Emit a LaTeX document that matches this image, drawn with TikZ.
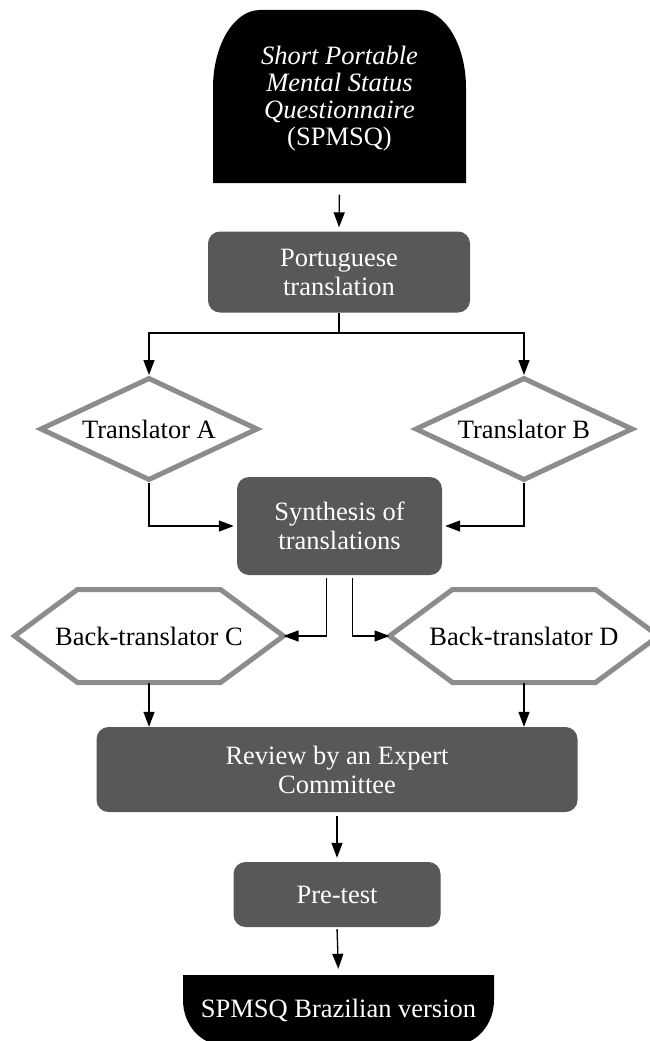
\documentclass[tikz,border=0pt]{standalone}
\usepackage{fontspec}
\setmainfont{Liberation Serif}
\usetikzlibrary{arrows.meta,shapes.geometric,calc}
\definecolor{boxgray}{RGB}{88,88,88}
\definecolor{linegray}{RGB}{140,140,140}
\begin{document}
\begin{tikzpicture}[x=1pt,y=-1pt,
  every node/.style={font=\fontsize{26.5pt}{29pt}\selectfont},
  darkbox/.style={rectangle, rounded corners=12pt, fill=boxgray, text=white, align=center, inner sep=0pt},
  choice/.style={diamond, draw=linegray, line width=5pt, fill=white, inner sep=0pt, aspect=2.1, minimum width=218pt, minimum height=103pt},
  hexbox/.style={rectangle, inner sep=0pt, outer sep=3pt, minimum width=263pt, minimum height=87pt},
  hexline/.style={draw=linegray, line width=5pt, line join=miter},
  arr/.style={draw=black, line width=1.3pt, -{Triangle[length=15pt,width=11pt]}},
  link/.style={draw=black, line width=1.3pt}
]
\useasboundingbox (0,0) rectangle (649,1041);

% top shape
\fill[black] (213,183) -- (213,88) arc[start angle=180, end angle=270, x radius=47, y radius=78]
  -- (419,10) arc[start angle=270, end angle=360, x radius=47, y radius=78] -- (466,183) -- cycle;
\node[align=center, text=white, inner sep=0pt, minimum width=253pt, minimum height=173pt,
  font=\fontsize{26.5pt}{27pt}\selectfont] (top) at (339.5,99)
  {\textit{Short Portable}\\\textit{Mental Status}\\\textit{Questionnaire}\\(SPMSQ)};

% bottom shape
\fill[black] (183,975) -- (494,975) -- (494,1000) arc[start angle=0, end angle=90, x radius=40, y radius=45]
  -- (223,1045) arc[start angle=90, end angle=180, x radius=40, y radius=45] -- cycle;
\node[text=white, inner sep=0pt, minimum width=311pt, minimum height=70pt] (final) at (338.5,1010) {SPMSQ Brazilian version};

\node[darkbox, minimum width=262pt, minimum height=81pt] (port) at (339,272) {Portuguese\\translation};
\node[choice] (ta) at (149,429) {Translator A};
\node[choice] (tb) at (524,429) {Translator B};
\node[darkbox, minimum width=205pt, minimum height=98pt] (syn) at (339.5,526) {Synthesis of\\translations};

\node[hexbox] (bc) at (149,636) {Back-translator C};
\draw[hexline] (bc.west) -- ([xshift=63pt]bc.north west) -- ([xshift=-63pt]bc.north east) -- (bc.east)
  -- ([xshift=-63pt]bc.south east) -- ([xshift=63pt]bc.south west) -- cycle;
\node[hexbox] (bd) at (524,636) {Back-translator D};
\draw[hexline] (bd.west) -- ([xshift=63pt]bd.north west) -- ([xshift=-63pt]bd.north east) -- (bd.east)
  -- ([xshift=-63pt]bd.south east) -- ([xshift=63pt]bd.south west) -- cycle;

\node[darkbox, minimum width=481pt, minimum height=85pt] (rev) at (337,769.5) {Review by an Expert\\Committee};
\node[darkbox, minimum width=207pt, minimum height=65pt] (pre) at (337,894.5) {Pre-test};

% connectors
\draw[arr, shorten <=9pt, shorten >=4pt] (top.south) -- (port.north);
\coordinate (split) at (339,333);
\draw[link] (port.south) -- (split);
\draw[arr] (split) -| (ta.north);
\draw[arr] (split) -| (tb.north);
\draw[arr, shorten >=3pt] (ta.south) |- (syn.west);
\draw[arr, shorten >=3pt] (tb.south) |- (syn.east);
\draw[arr, shorten <=3pt] ([xshift=-13pt]syn.south) |- (bc.east);
\draw[arr, shorten <=3pt] ([xshift=13pt]syn.south) |- (bd.west);
\draw[arr] (bc.south) -- (bc.south |- rev.north);
\draw[arr] (bd.south) -- (bd.south |- rev.north);
\draw[arr, shorten <=4pt, shorten >=4pt] (rev.south) -- (pre.north);
\draw[arr, shorten <=2pt, shorten >=6pt] (pre.south) -- (final.north);
\end{tikzpicture}
\end{document}
